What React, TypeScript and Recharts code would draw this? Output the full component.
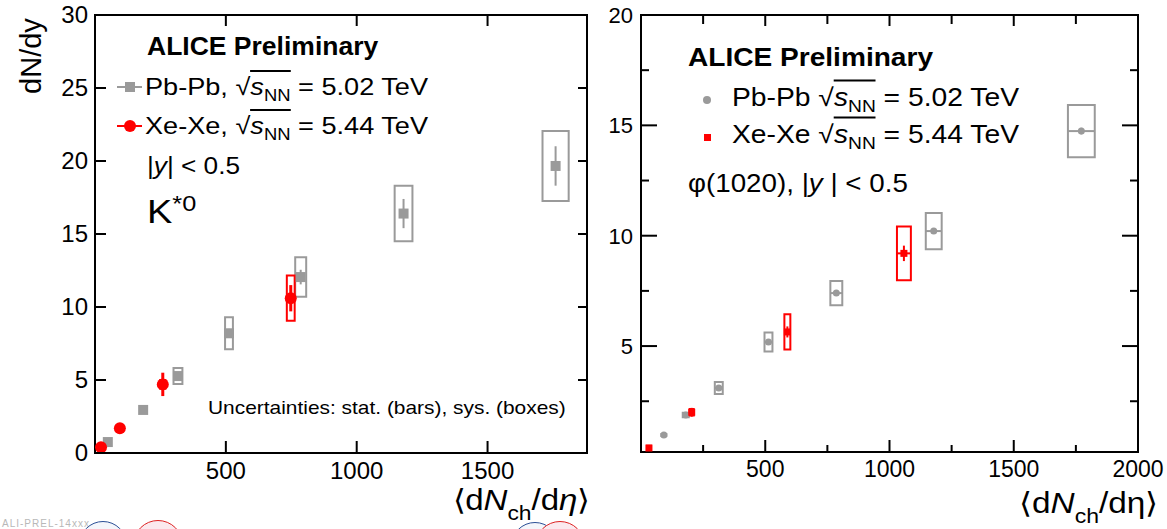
import React from 'react';
import { ScatterChart, Scatter, XAxis, YAxis, ErrorBar, ReferenceArea } from 'recharts';

// K*0 panel (left)
const kstarPbX = [49, 184, 317, 512, 786, 1179, 1760];
const kstarPbY = [0.75, 2.95, 5.27, 8.2, 12.05, 16.4, 19.66];
const kstarPbStat = [0.05, 0.1, 0.2, 0.3, 0.5, 1.0, 1.35];
const kstarPbSysX = [8, 12, 17, 15, 21, 34, 50];
const kstarPbSysY = [0.1, 0.2, 0.55, 1.1, 1.35, 1.9, 2.4];

const kstarXeX = [23, 95, 259, 748];
const kstarXeY = [0.4, 1.7, 4.7, 10.6];
const kstarXeStat = [0.05, 0.15, 0.8, 0.9];
const kstarXeSysX = [5, 8, 10, 15];
const kstarXeSysY = [0.05, 0.1, 0.3, 1.55];

const kstarXTicks = [500, 1000, 1500];
const kstarYTicks = [0, 5, 10, 15, 20, 25, 30];

// phi(1020) panel (right)
const phiPbX = [92, 180, 313, 513, 786, 1178, 1772];
const phiPbY = [0.97, 1.88, 3.1, 5.18, 7.4, 10.21, 14.74];
const phiPbStat = [0.02, 0.03, 0.05, 0.08, 0.1, 0.12, 0.15];
const phiPbSysX = [10, 12, 16, 16, 24, 32, 54];
const phiPbSysY = [0.05, 0.1, 0.27, 0.43, 0.55, 0.82, 1.18];

const phiXeX = [32, 204, 589, 1058];
const phiXeY = [0.38, 2.0, 5.64, 9.2];
const phiXeStat = [0.05, 0.2, 0.25, 0.35];
const phiXeSysX = [8, 8, 12, 28];
const phiXeSysY = [0.1, 0.15, 0.8, 1.22];

const phiXTicks = [250, 500, 750, 1000, 1250, 1500, 1750, 2000];
const phiYTicks = [2.5, 5, 7.5, 10, 12.5, 15, 17.5, 20];

const GRAY = '#9a9a9a';
const RED = '#ff0000';
const FONT = '"Liberation Sans", Arial, Helvetica, sans-serif';

const toPoints = (xs: number[], ys: number[], stat: number[], sysX: number[], sysY: number[]) =>
  xs.map((x, i) => ({ x, y: ys[i], stat: stat[i], sysX: sysX[i], sysY: sysY[i] }));

const kstarPb = toPoints(kstarPbX, kstarPbY, kstarPbStat, kstarPbSysX, kstarPbSysY);
const kstarXe = toPoints(kstarXeX, kstarXeY, kstarXeStat, kstarXeSysX, kstarXeSysY);
const phiPb = toPoints(phiPbX, phiPbY, phiPbStat, phiPbSysX, phiPbSysY);
const phiXe = toPoints(phiXeX, phiXeY, phiXeStat, phiXeSysX, phiXeSysY);

// plot frames in each svg's own coordinates
const L = { left: 95, top: 15, right: 587, bottom: 453 };
const R = { left: 51, top: 15, right: 548, bottom: 452 };

function sysBoxes(points: any[], color: string, prefix: string) {
  return points.map((p, i) => (
    <ReferenceArea
      key={`${prefix}-${i}`}
      x1={p.x - p.sysX}
      x2={p.x + p.sysX}
      y1={p.y - p.sysY}
      y2={p.y + p.sysY}
      fill="none"
      fillOpacity={0}
      stroke={color}
      strokeWidth={2}
      ifOverflow="visible"
    />
  ));
}

const square = (size: number, color: string) => (props: any) => (
  <rect x={props.cx - size / 2} y={props.cy - size / 2} width={size} height={size} fill={color} />
);
const circle = (r: number, color: string) => (props: any) => (
  <circle cx={props.cx} cy={props.cy} r={r} fill={color} />
);

function KstarXTick(props: any) {
  const { x, payload } = props;
  return (
    <g>
      <line x1={x} x2={x} y1={L.bottom} y2={L.bottom - 12} stroke="#000" strokeWidth={2} />
      <line x1={x} x2={x} y1={L.top} y2={L.top + 11} stroke="#000" strokeWidth={2} />
      <text x={x} y={479} textAnchor="middle" fontSize={24} fontFamily={FONT} fill="#000">
        {payload.value}
      </text>
    </g>
  );
}

function KstarYTick(props: any) {
  const { y, payload } = props;
  return (
    <g>
      <line x1={L.left} x2={L.left + 11} y1={y} y2={y} stroke="#000" strokeWidth={2} />
      <line x1={L.right} x2={L.right - 9} y1={y} y2={y} stroke="#000" strokeWidth={2} />
      <text x={88} y={y + 8} textAnchor="end" fontSize={24} fontFamily={FONT} fill="#000">
        {payload.value}
      </text>
    </g>
  );
}

function PhiXTick(props: any) {
  const { x, payload } = props;
  const major = payload.value % 500 === 0;
  const len = major ? 12 : 7;
  return (
    <g>
      <line x1={x} x2={x} y1={R.bottom} y2={R.bottom - len} stroke="#000" strokeWidth={2} />
      <line x1={x} x2={x} y1={R.top} y2={R.top + (major ? 11 : 9)} stroke="#000" strokeWidth={2} />
      {major && (
        <text x={x} y={477} textAnchor="middle" fontSize={23} fontFamily={FONT} fill="#000">
          {payload.value}
        </text>
      )}
    </g>
  );
}

function PhiYTick(props: any) {
  const { y, payload } = props;
  const major = payload.value % 5 === 0;
  return (
    <g>
      <line x1={R.left} x2={R.left + (major ? 16 : 8)} y1={y} y2={y} stroke="#000" strokeWidth={2} />
      <line x1={R.right} x2={R.right - (major ? 16 : 8)} y1={y} y2={y} stroke="#000" strokeWidth={2} />
      {major && (
        <text x={43} y={y + 8} textAnchor="end" fontSize={22} fontFamily={FONT} fill="#000">
          {payload.value}
        </text>
      )}
    </g>
  );
}

// text label; sx stretches it sideways like the wide ROOT Helvetica
function T({ x, y, size, bold, end, sx = 1, children }: any) {
  return (
    <div
      style={{
        position: 'absolute',
        left: x,
        top: y,
        fontSize: size,
        fontWeight: bold ? 700 : 400,
        lineHeight: 1,
        whiteSpace: 'nowrap',
        transformOrigin: end ? 'right center' : 'left center',
        transform: `translate(${end ? '-100%' : '0'}, -50%) scaleX(${sx})`,
        color: '#000',
      }}
    >
      {children}
    </div>
  );
}

function Sqrt() {
  return (
    <span>
      √
      <span style={{ borderTop: '2px solid #000', paddingTop: 1 }}>
        <i>s</i>
        <span style={{ fontSize: '0.68em', position: 'relative', top: '0.35em' }}>NN</span>
      </span>
    </span>
  );
}

function Ring({ cx, cy, r, color, fill }: any) {
  return (
    <div
      style={{
        position: 'absolute',
        left: cx - r,
        top: cy - r,
        width: 2 * r,
        height: 2 * r,
        borderRadius: '50%',
        border: `1.5px solid ${color}`,
        background: fill,
        boxSizing: 'border-box',
      }}
    />
  );
}

export default function App() {
  return (
    <div
      style={{
        position: 'absolute',
        left: 0,
        top: 0,
        width: 1167,
        height: 529,
        overflow: 'hidden',
        background: '#fff',
        fontFamily: FONT,
      }}
    >
      {/* left panel: K*0 */}
      <div style={{ position: 'absolute', left: 0, top: 0 }}>
        <ScatterChart width={600} height={529} margin={{ top: 15, right: 13, bottom: 0, left: 0 }}>
          <XAxis
            type="number"
            dataKey="x"
            domain={[0, 1880]}
            allowDataOverflow
            ticks={kstarXTicks}
            tick={<KstarXTick />}
            tickLine={false}
            axisLine={{ stroke: '#000', strokeWidth: 2 }}
            height={76}
          />
          <YAxis
            type="number"
            dataKey="y"
            domain={[0, 30]}
            allowDataOverflow
            ticks={kstarYTicks}
            tick={<KstarYTick />}
            tickLine={false}
            axisLine={{ stroke: '#000', strokeWidth: 2 }}
            width={95}
          />
          <ReferenceArea x1={0} x2={1880} y1={0} y2={30} fill="none" fillOpacity={0} stroke="#000" strokeWidth={2} ifOverflow="visible" />
          {sysBoxes(kstarPb, GRAY, 'kpb')}
          {sysBoxes(kstarXe, RED, 'kxe')}
          <Scatter data={kstarPb} shape={square(10, GRAY)} isAnimationActive={false}>
            <ErrorBar dataKey="stat" direction="y" width={0} stroke={GRAY} strokeWidth={2} />
          </Scatter>
          <Scatter data={kstarXe} shape={circle(6, RED)} isAnimationActive={false}>
            <ErrorBar dataKey="stat" direction="y" width={0} stroke={RED} strokeWidth={3} />
          </Scatter>
        </ScatterChart>
      </div>

      {/* right panel: phi(1020) */}
      <div style={{ position: 'absolute', left: 590, top: 0 }}>
        <ScatterChart width={577} height={529} margin={{ top: 15, right: 29, bottom: 0, left: 0 }}>
          <XAxis
            type="number"
            dataKey="x"
            domain={[0, 2000]}
            allowDataOverflow
            ticks={phiXTicks}
            tick={<PhiXTick />}
            tickLine={false}
            axisLine={{ stroke: '#000', strokeWidth: 2 }}
            height={77}
          />
          <YAxis
            type="number"
            dataKey="y"
            domain={[0.2, 20]}
            allowDataOverflow
            ticks={phiYTicks}
            tick={<PhiYTick />}
            tickLine={false}
            axisLine={{ stroke: '#000', strokeWidth: 2 }}
            width={51}
          />
          <ReferenceArea x1={0} x2={2000} y1={0.2} y2={20} fill="none" fillOpacity={0} stroke="#000" strokeWidth={2} ifOverflow="visible" />
          {sysBoxes(phiPb, GRAY, 'ppb')}
          {sysBoxes(phiXe, RED, 'pxe')}
          <Scatter data={phiPb} shape={circle(3.5, GRAY)} isAnimationActive={false}>
            <ErrorBar dataKey="stat" direction="y" width={0} stroke={GRAY} strokeWidth={2} />
            <ErrorBar dataKey="sysX" direction="x" width={0} stroke={GRAY} strokeWidth={2} />
          </Scatter>
          <Scatter data={phiXe} shape={square(7, RED)} isAnimationActive={false}>
            <ErrorBar dataKey="stat" direction="y" width={0} stroke={RED} strokeWidth={2} />
            <ErrorBar dataKey="sysX" direction="x" width={0} stroke={RED} strokeWidth={2} />
          </Scatter>
        </ScatterChart>
      </div>

      {/* left panel texts */}
      <div
        style={{
          position: 'absolute',
          left: 31,
          top: 56,
          fontSize: 29,
          lineHeight: 1,
          whiteSpace: 'nowrap',
          transform: 'translate(-50%, -50%) rotate(-90deg)',
        }}
      >
        dN/dy
      </div>
      <T x={147} y={46} size={25} sx={1.06} bold>ALICE Preliminary</T>
      <div style={{ position: 'absolute', left: 117, top: 86, width: 25, height: 2, background: GRAY }} />
      <div style={{ position: 'absolute', left: 125, top: 82, width: 10, height: 10, background: GRAY }} />
      <T x={145} y={87} size={24} sx={1.13}>Pb-Pb, <Sqrt /> = 5.02 TeV</T>
      <div style={{ position: 'absolute', left: 117, top: 125, width: 25, height: 2, background: RED }} />
      <div style={{ position: 'absolute', left: 124, top: 120, width: 12, height: 12, borderRadius: '50%', background: RED }} />
      <T x={145} y={126} size={24} sx={1.13}>Xe-Xe, <Sqrt /> = 5.44 TeV</T>
      <T x={147} y={166} size={23} sx={1.14}>|<i>y</i>| &lt; 0.5</T>
      <T x={147} y={211} size={33} sx={1.15}>
        K<span style={{ fontSize: 22, position: 'relative', top: -12 }}>*0</span>
      </T>
      <T x={208} y={407} size={19} sx={1.1}>Uncertainties: stat. (bars), sys. (boxes)</T>
      <T x={590} y={500} size={29} sx={1.14} end>
        ⟨d<i>N</i><span style={{ fontSize: 20, position: 'relative', top: 10 }}>ch</span>/d<i>η</i>⟩
      </T>

      {/* right panel texts */}
      <T x={688} y={57} size={26} sx={1.08} bold>ALICE Preliminary</T>
      <div style={{ position: 'absolute', left: 703, top: 96, width: 8, height: 8, borderRadius: '50%', background: GRAY }} />
      <T x={732} y={97} size={25} sx={1.13}>Pb-Pb <Sqrt /> = 5.02 TeV</T>
      <div style={{ position: 'absolute', left: 704, top: 134, width: 7, height: 7, background: RED }} />
      <T x={732} y={134} size={25} sx={1.13}>Xe-Xe <Sqrt /> = 5.44 TeV</T>
      <T x={688} y={183} size={25} sx={1.11}>φ(1020), |<i>y</i> | &lt; 0.5</T>
      <T x={1158} y={503} size={29} sx={1.15} end>
        ⟨d<i>N</i><span style={{ fontSize: 20, position: 'relative', top: 10 }}>ch</span>/dη⟩
      </T>

      {/* cut-off logos at the bottom edge */}
      <div style={{ position: 'absolute', left: 2, top: 518, fontSize: 10, color: '#b8b8b8', letterSpacing: 1 }}>ALI-PREL-14xxx</div>
      <Ring cx={103} cy={545} r={24} color="#2b4f96" fill="#f4f6fb" />
      <Ring cx={158} cy={545} r={25} color="#d22" fill="#fbe9ee" />
      <Ring cx={535} cy={546} r={24} color="#2b4f96" fill="#f4f6fb" />
      <Ring cx={560} cy={546} r={25} color="#d22" fill="#fbe9ee" />
    </div>
  );
}
